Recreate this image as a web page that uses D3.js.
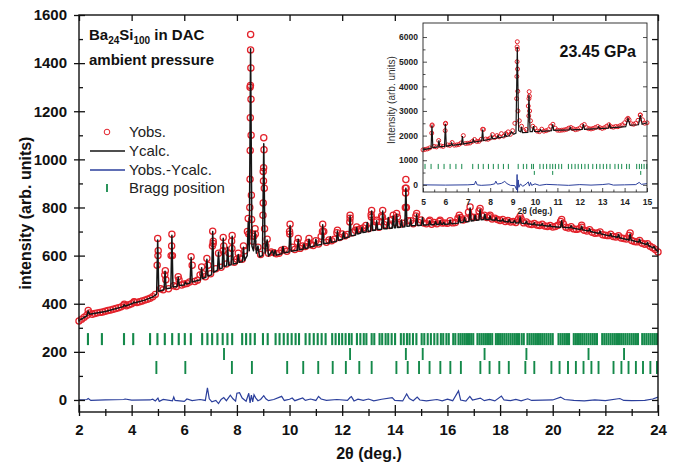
<!DOCTYPE html>
<html>
<head>
<meta charset="utf-8">
<script src="https://cdn.jsdelivr.net/npm/d3@7"></script>
<style>
    body { margin: 0; background: #fff; }
    text { font-family: "Liberation Sans", Arial, sans-serif; }
</style>
</head>
<body>
<div id="chart"></div>
<script>
// ---- main pattern (ambient pressure) ----
// Yobs on a uniform 2theta grid: start 2.0, step 0.1
var obsStart = 2.0, obsStep = 0.1;
var yObsMain = [
    328, 336, 344, 352, 362, 356, 359, 362, 364, 366,
    369, 372, 374, 377, 380, 383, 387, 394, 392, 396,
    400, 406, 405, 408, 411, 415, 419, 423, 429, 438,
    600, 462, 458, 500, 462, 600, 475, 472, 500, 478,
    482, 484, 490, 560, 492, 498, 520, 525, 512, 560,
    525, 650, 545, 610, 552, 640, 565, 610, 660, 572,
    585, 590, 585, 620, 700, 1300, 660, 690, 635, 605,
    950, 640, 610, 615, 612, 608, 610, 622, 625, 618,
    700, 635, 625, 655, 630, 640, 638, 655, 645, 642,
    662, 648, 680, 700, 655, 665, 662, 668, 695, 675,
    690, 682, 688, 755, 695, 705, 708, 712, 715, 725,
    712, 770, 718, 740, 718, 765, 728, 740, 725, 750,
    738, 760, 730, 735, 880, 745, 745, 732, 765, 738,
    748, 735, 732, 742, 730, 738, 732, 742, 735, 736,
    734, 745, 736, 738, 755, 758, 748, 752, 780, 762,
    758, 760, 785, 765, 768, 758, 762, 752, 755, 750,
    746, 750, 742, 746, 740, 742, 738, 752, 752, 736,
    740, 731, 729, 734, 727, 725, 730, 723, 721, 725,
    719, 721, 726, 742, 732, 718, 715, 720, 711, 709,
    712, 718, 705, 702, 708, 697, 693, 694, 698, 687,
    685, 683, 689, 679, 677, 683, 673, 671, 669, 684,
    663, 659, 657, 663, 651, 647, 649, 639, 633, 625,
    615
];
// extra Yobs points on the flanks of the sharp peaks [2theta, I]
var obsPeakPts = [
    [2.35, 372], [3.72, 398], [4.09, 408], [4.97, 560], [4.99, 671], [5.01, 620],
    [5.26, 520], [5.28, 537], [5.52, 640], [5.53, 689], [5.55, 600], [5.77, 512],
    [6.26, 595], [6.66, 553], [6.86, 588], [7.07, 640], [7.08, 701], [7.10, 660],
    [7.47, 620], [7.48, 675], [7.81, 630], [7.82, 684], [8.05, 610], [8.25, 640],
    [8.43, 754], [8.45, 690], [8.49, 800], [8.50, 917], [8.505, 1037], [8.51, 1173],
    [8.515, 1307], [8.52, 1455], [8.522, 1519], [8.53, 1380], [8.535, 1250], [8.54, 1100],
    [8.55, 851], [8.56, 750], [8.64, 680], [8.69, 712], [8.99, 768], [9.0, 819],
    [9.01, 910], [9.015, 965], [9.02, 1090], [9.03, 1040], [9.04, 880], [9.05, 712],
    [9.15, 668], [10.01, 690], [10.02, 730], [10.33, 671], [10.74, 671], [11.25, 700],
    [11.26, 730], [11.82, 705], [12.29, 740], [12.3, 768], [12.55, 719], [13.11, 760],
    [13.12, 788], [13.31, 747], [13.53, 760], [13.54, 788], [13.94, 768], [14.07, 775],
    [14.40, 800], [14.41, 860], [14.42, 916], [14.43, 880], [14.44, 800], [14.83, 775],
    [15.33, 747], [15.72, 747], [16.45, 768], [16.86, 802], [17.24, 796], [17.62, 768],
    [18.76, 763], [20.34, 750], [21.1, 726], [22.94, 694]
];
// Ycalc profile vertices [2theta, I]
var yCalcMain = [
    [2.0, 330], [2.3, 350], [2.35, 370], [2.4, 356], [3.0, 368], [3.68, 388], [3.72, 396], [3.76, 390],
    [4.05, 402], [4.09, 407], [4.13, 404], [4.5, 415], [4.8, 428], [4.95, 440], [4.99, 665], [5.03, 452],
    [5.23, 458], [5.27, 535], [5.31, 462], [5.49, 465], [5.53, 685], [5.57, 470], [5.73, 472], [5.77, 510],
    [5.81, 476], [6.0, 478], [6.04, 490], [6.08, 482], [6.22, 486], [6.26, 592], [6.3, 490], [6.62, 500],
    [6.66, 550], [6.7, 505], [6.82, 510], [6.86, 585], [6.9, 515], [7.04, 520], [7.08, 700], [7.12, 530],
    [7.26, 540], [7.3, 615], [7.34, 545], [7.44, 548], [7.48, 672], [7.52, 555], [7.61, 558], [7.65, 635],
    [7.69, 560], [7.78, 562], [7.82, 680], [7.86, 565], [8.01, 568], [8.05, 605], [8.09, 572], [8.21, 575],
    [8.25, 635], [8.29, 580], [8.39, 600], [8.43, 740], [8.47, 620], [8.52, 1460], [8.57, 640], [8.63, 620],
    [8.69, 700], [8.74, 610], [8.8, 640], [8.86, 595], [8.97, 600], [9.02, 1065], [9.07, 610], [9.15, 665],
    [9.2, 598], [9.35, 620], [9.4, 600], [9.45, 622], [9.5, 602], [9.71, 608], [9.75, 638], [9.79, 612],
    [9.98, 615], [10.02, 725], [10.06, 618], [10.29, 622], [10.33, 668], [10.37, 624], [10.51, 626], [10.55, 648],
    [10.59, 630], [10.7, 632], [10.74, 668], [10.78, 636], [10.96, 640], [11.0, 668], [11.04, 643], [11.22, 646],
    [11.26, 728], [11.3, 650], [11.51, 652], [11.55, 678], [11.59, 655], [11.78, 660], [11.82, 702], [11.86, 664],
    [12.01, 668], [12.05, 698], [12.09, 672], [12.26, 678], [12.3, 765], [12.34, 682], [12.51, 686], [12.55, 716],
    [12.59, 690], [12.71, 694], [12.75, 718], [12.79, 696], [12.91, 698], [12.95, 738], [12.99, 700], [13.08, 702],
    [13.12, 785], [13.16, 704], [13.27, 706], [13.31, 745], [13.35, 708], [13.5, 710], [13.54, 785], [13.58, 712],
    [13.71, 712], [13.75, 758], [13.79, 714], [13.9, 714], [13.94, 765], [13.98, 716], [14.03, 716], [14.07, 772],
    [14.11, 717], [14.21, 718], [14.25, 748], [14.29, 719], [14.38, 720], [14.42, 880], [14.46, 722], [14.56, 723],
    [14.6, 752], [14.64, 724], [14.79, 725], [14.83, 772], [14.87, 725], [15.01, 726], [15.05, 758], [15.09, 727],
    [15.29, 728], [15.33, 745], [15.37, 728], [15.51, 729], [15.55, 742], [15.59, 729], [15.68, 729], [15.72, 745],
    [15.76, 730], [15.82, 730], [15.86, 738], [15.9, 730], [16.06, 731], [16.1, 748], [16.14, 732], [16.41, 735],
    [16.45, 765], [16.49, 737], [16.61, 740], [16.65, 758], [16.69, 741], [16.82, 742], [16.86, 798], [16.9, 744],
    [17.01, 746], [17.05, 768], [17.09, 747], [17.2, 748], [17.24, 792], [17.28, 749], [17.38, 750], [17.42, 772],
    [17.46, 750], [17.58, 750], [17.62, 765], [17.66, 749], [17.81, 747], [17.85, 758], [17.89, 746], [18.06, 744],
    [18.1, 752], [18.14, 743], [18.31, 740], [18.35, 750], [18.39, 739], [18.51, 738], [18.55, 746], [18.59, 737],
    [18.72, 736], [18.76, 760], [18.8, 735], [18.96, 733], [19.0, 743], [19.04, 732], [19.26, 729], [19.3, 736],
    [19.34, 728], [19.56, 726], [19.6, 733], [19.64, 725], [19.86, 722], [19.9, 728], [19.94, 721], [20.3, 718],
    [20.34, 745], [20.38, 718], [20.66, 716], [20.7, 724], [20.74, 715], [21.06, 708], [21.1, 722], [21.14, 707],
    [21.36, 702], [21.4, 712], [21.44, 700], [21.76, 692], [21.8, 702], [21.84, 690], [22.16, 682], [22.2, 692],
    [22.24, 680], [22.46, 676], [22.5, 688], [22.54, 674], [22.9, 665], [22.94, 690], [22.98, 664], [23.26, 656],
    [23.3, 668], [23.34, 654], [23.56, 646], [23.6, 654], [23.64, 642], [23.81, 632], [23.85, 638], [23.89, 628],
    [24.0, 616]
];
// Yobs - Ycalc [2theta, I]
var diffMain = [
    [2.0, 0], [2.3, 2], [2.35, 6], [2.45, -2], [3.0, 0], [3.7, 2], [3.75, 4], [4.0, -1], [4.7, 0], [4.8, 3],
    [4.9, -4], [5.0, 8], [5.05, -6], [5.2, 2], [5.55, -4], [5.6, 12], [5.65, -2], [6.0, -6], [6.1, 4], [6.3, -3],
    [6.6, 2], [6.8, -2], [6.88, 50], [6.95, 5], [7.05, -8], [7.2, -2], [7.3, -15], [7.4, 2], [7.5, 10], [7.6, -3],
    [7.75, 20], [7.85, 5], [7.95, -5], [8.0, 28], [8.1, 30], [8.2, 8], [8.35, -5], [8.45, 28], [8.5, -12], [8.55, 20],
    [8.6, -8], [8.65, 22], [8.72, 8], [8.8, -3], [8.9, 2], [9.02, 18], [9.1, 5], [9.2, -3], [9.4, 2], [9.7, 15],
    [9.8, -2], [10.0, 3], [10.1, 8], [10.2, -3], [10.5, 8], [10.6, -2], [10.8, 4], [11.0, -2], [11.1, 15], [11.2, 4],
    [11.4, -2], [11.8, 2], [12.2, -2], [12.3, 10], [12.35, 14], [12.45, -4], [12.6, 3], [12.8, -2], [13.0, 4], [13.2, -4],
    [13.5, 3], [13.9, 10], [14.0, -2], [14.3, -4], [14.45, 25], [14.55, 6], [14.7, -3], [14.85, 12], [14.95, 0], [15.2, -4],
    [15.6, 2], [15.8, -4], [16.0, 3], [16.2, -3], [16.42, 38], [16.5, 0], [16.7, -5], [16.85, 15], [16.95, 0], [17.25, 8],
    [17.4, -3], [17.6, 2], [17.8, -4], [18.05, 16], [18.15, 0], [18.4, -3], [18.6, 2], [18.8, -4], [19.05, 5], [19.2, -2],
    [19.6, -1], [20.0, 0], [20.3, 12], [20.45, 2], [20.8, -2], [21.2, -4], [21.6, 0], [22.0, -3], [22.55, 6], [22.7, -2],
    [23.0, -3], [23.5, -2], [23.8, 4], [24.0, 12]
];
// Bragg positions, three phases
var braggMain1 = [
    2.34, 2.87, 3.71, 4.06, 4.70, 4.98, 5.26, 5.54, 5.79, 6.02, 6.25, 6.68, 6.88, 7.06, 7.26, 7.46, 7.64, 7.82,
    8.20, 8.35, 8.51, 8.68, 8.99, 9.17, 9.47, 9.62, 9.78, 9.93, 10.08, 10.23, 10.36, 10.61, 10.76, 10.92, 11.07,
    11.22, 11.37, 11.62, 11.75, 11.88, 12.00, 12.13, 12.26, 12.36, 12.56, 12.69, 12.82, 12.92, 13.12, 13.22,
    13.42, 13.52, 13.65, 13.75, 13.88, 14.01, 14.23, 14.34, 14.46, 14.56, 14.69, 14.82, 15.02, 15.12, 15.25,
    15.37, 15.5, 15.62, 15.75, 15.84, 15.96, 16.05, 16.22, 16.30, 16.42, 16.50, 16.58, 16.66, 16.74, 16.82,
    16.9, 16.98, 17.14, 17.22, 17.30, 17.38, 17.46, 17.54, 17.62, 17.70, 17.84, 17.92, 18.0, 18.08, 18.16,
    18.24, 18.32, 18.40, 18.48, 18.56, 18.64, 18.72, 18.82, 18.90, 19.04, 19.12, 19.20, 19.28, 19.36, 19.44,
    19.52, 19.60, 19.68, 19.76, 19.84, 19.92, 20.0, 20.22, 20.30, 20.38, 20.46, 20.54, 20.62, 20.80, 20.88,
    20.96, 21.04, 21.12, 21.20, 21.28, 21.36, 21.44, 21.52, 21.60, 21.68, 21.88, 21.96, 22.04, 22.12, 22.20,
    22.28, 22.36, 22.44, 22.52, 22.60, 22.68, 22.76, 22.84, 22.92, 23.0, 23.08, 23.16, 23.24, 23.40, 23.48,
    23.56, 23.64, 23.72, 23.80, 23.88, 23.96
];
var braggMain2 = [7.51, 12.30, 14.42, 15.06, 17.41, 19.0, 21.36, 22.71];
var braggMain3 = [
    4.94, 6.04, 7.81, 8.57, 9.91, 10.52, 11.09, 11.64, 12.14, 12.65, 13.12, 14.06, 14.49, 14.92, 15.32,
    15.73, 16.11, 16.51, 17.25, 17.60, 17.97, 18.33, 18.96, 19.30, 19.95, 20.26, 20.58, 20.88, 21.17,
    21.47, 21.74, 22.31, 22.61, 22.88, 23.16, 23.43, 23.71, 23.96
];

// ---- inset pattern (23.45 GPa) ----
var insetObsStart = 5.0, insetObsStep = 0.1;
var yObsInset = [
    1420, 1440, 1460, 1500, 2400, 1560, 1540, 1800, 1580, 1560,
    2480, 1620, 1600, 1720, 1610, 1620, 1640, 1700, 2000, 1680,
    1690, 1700, 1760, 1840, 1760, 1770, 1850, 2250, 1860, 1850,
    1900, 2040, 1920, 2000, 1950, 2080, 1980, 2080, 2150, 2050,
    2200, 2500, 5600, 2600, 2380, 2200, 2250, 3200, 2600, 2380,
    2300, 2180, 2160, 2260, 2180, 2200, 2240, 2380, 2460, 2300,
    2220, 2210, 2220, 2230, 2250, 2300, 2330, 2280, 2240, 2260,
    2300, 2400, 2450, 2320, 2280, 2270, 2290, 2330, 2370, 2320,
    2290, 2320, 2380, 2440, 2360, 2340, 2370, 2360, 2400, 2440,
    2520, 2650, 2640, 2480, 2460, 2500, 2620, 2830, 2640, 2500,
    2520
];
var obsPeakInset = [
    [5.39, 2100], [5.41, 2432], [5.99, 2200], [6.01, 2500], [7.66, 2256], [9.18, 3500], [9.19, 4400],
    [9.2, 5000], [9.21, 5810], [9.215, 5500], [9.22, 4700], [9.23, 3800], [9.24, 3000], [9.72, 2800],
    [9.73, 3500], [9.74, 3783], [9.75, 3600], [9.76, 3000], [14.15, 2703], [14.7, 2838]
];
var yCalcInset = [
    [5.0, 1420], [5.36, 1490], [5.4, 2420], [5.44, 1510], [5.67, 1540], [5.71, 1810], [5.75, 1550], [5.96, 1560],
    [6.0, 2480], [6.04, 1570], [6.24, 1600], [6.28, 1700], [6.32, 1605], [6.72, 1650], [6.76, 1980], [6.8, 1660],
    [7.21, 1730], [7.25, 1830], [7.29, 1740], [7.62, 1790], [7.66, 2240], [7.7, 1800], [8.03, 1860], [8.07, 2000],
    [8.11, 1870], [8.31, 1900], [8.35, 2000], [8.39, 1910], [8.63, 1950], [8.67, 2090], [8.71, 1960], [8.85, 1990],
    [8.95, 2150], [9.05, 2050], [9.15, 2100], [9.21, 5600], [9.27, 2200], [9.36, 2150], [9.4, 2360], [9.44, 2120],
    [9.68, 2130], [9.73, 3650], [9.78, 2160], [9.88, 2160], [9.93, 2380], [9.98, 2170], [10.2, 2160], [10.25, 2240],
    [10.3, 2170], [10.74, 2200], [10.79, 2460], [10.84, 2210], [11.52, 2230], [11.57, 2330], [11.62, 2235],
    [12.11, 2250], [12.16, 2460], [12.21, 2255], [12.79, 2280], [12.84, 2360], [12.89, 2285], [13.28, 2300],
    [13.33, 2450], [13.38, 2310], [14.05, 2360], [14.15, 2680], [14.25, 2420], [14.62, 2440], [14.7, 2830],
    [14.78, 2460], [15.0, 2520]
];
var diffInset = [
    [5.0, 0], [6.0, -10], [7.0, 0], [7.3, 20], [7.35, 150], [7.42, 0], [7.6, -20], [8.0, 0], [8.2, 40], [8.25, 150],
    [8.32, 30], [8.5, 60], [8.65, 140], [8.75, 50], [8.9, -20], [9.1, -30], [9.18, -200], [9.2, 420], [9.22, -300],
    [9.25, 200], [9.28, -100], [9.35, 40], [9.45, -60], [9.6, 30], [9.7, 120], [9.75, -50], [9.8, 100], [9.85, -20],
    [10.0, 40], [10.2, -20], [10.5, 20], [11.0, 0], [11.5, -20], [12.0, 10], [12.5, -10], [13.0, 10], [13.3, 40],
    [13.5, -10], [14.0, 0], [14.5, 10], [14.65, 100], [14.75, 20], [15.0, 50]
];
var braggInset1 = [
    5.09, 5.36, 5.68, 5.94, 6.21, 6.47, 6.73, 7.22, 7.47, 7.69, 7.92, 8.14, 8.36, 8.59, 8.81, 9.25, 9.48, 9.63,
    9.85, 9.93, 10.22, 10.37, 10.52, 10.67, 10.79, 10.91, 11.06, 11.19, 11.49, 11.64, 11.79, 11.93, 12.08,
    12.23, 12.38, 12.58, 12.75, 12.90, 13.05, 13.20, 13.35, 13.57, 13.72, 13.87, 14.09, 14.21, 14.54, 14.66,
    14.76, 14.87, 14.99
];
var braggInset2 = [9.97, 10.79, 14.72];

var xTicksMain = [2, 4, 6, 8, 10, 12, 14, 16, 18, 20, 22, 24];
var yTicksMain = [0, 200, 400, 600, 800, 1000, 1200, 1400, 1600];
var xTicksInset = [5, 6, 7, 8, 9, 10, 11, 12, 13, 14, 15];
var yTicksInset = [0, 1000, 2000, 3000, 4000, 5000, 6000];
var legendItems = ["Yobs.", "Ycalc.", "Yobs.-Ycalc.", "Bragg position"];

(function () {
    var FONT = "'Liberation Sans', Arial, sans-serif";
    var RED = "#e3222b", BLACK = "#151515", BLUE = "#2b3f9c", GREEN = "#14894a";

    var svg = d3.select("#chart")
        .append("svg")
        .attr("width", 677)
        .attr("height", 465);

    var x = d3.scaleLinear().domain([2, 24]).range([79, 658]);
    var y = d3.scaleLinear().domain([-50, 1600]).range([412, 15]);

    var line = d3.line().x(d => x(d[0])).y(d => y(d[1]));

    // Bragg rows (centre, half height in intensity units, width)
    var rows = [[braggMain1, 253, 25, 2.1], [braggMain2, 191, 25, 1.9], [braggMain3, 135, 27, 1.9]];
    rows.forEach(function (r) {
        svg.append("g").selectAll("line")
            .data(r[0])
            .enter().append("line")
            .attr("x1", d => x(d)).attr("x2", d => x(d))
            .attr("y1", y(r[1] + r[2])).attr("y2", y(r[1] - r[2]))
            .attr("stroke", GREEN).attr("stroke-width", r[3]);
    });

    // residual
    svg.append("path")
        .datum(diffMain)
        .attr("d", line)
        .attr("fill", "none").attr("stroke", BLUE).attr("stroke-width", 1.2);

    // observed circles
    var obsAll = yObsMain.map((v, i) => [obsStart + i * obsStep, v]).concat(obsPeakPts);
    svg.append("g").selectAll("circle")
        .data(obsAll)
        .enter().append("circle")
        .attr("cx", d => x(d[0])).attr("cy", d => y(d[1]))
        .attr("r", 3.1)
        .attr("fill", "none").attr("stroke", RED).attr("stroke-width", 1.25);

    // calculated profile
    svg.append("path")
        .datum(yCalcMain)
        .attr("d", line)
        .attr("fill", "none").attr("stroke", BLACK).attr("stroke-width", 1.5)
        .attr("stroke-linejoin", "round");

    // ---- axes ----
    function styleAxis(g, size) {
        g.attr("font-family", FONT).attr("font-size", size).attr("font-weight", "bold");
        g.select(".domain").remove();
        g.selectAll("line").attr("stroke", "#111").attr("stroke-width", 1.3);
        g.selectAll("text").attr("fill", "#111");
    }
    var minorX = d3.range(3, 24, 2), minorY = d3.range(100, 1600, 200);

    svg.append("g").attr("transform", "translate(0,412)")
        .call(d3.axisBottom(x).tickValues(xTicksMain).tickSize(-7).tickPadding(12).tickFormat(d3.format("d")))
        .call(g => styleAxis(g, 15));
    svg.append("g").attr("transform", "translate(0,412)")
        .call(d3.axisBottom(x).tickValues(xTicksMain).tickSize(4).tickFormat(""))
        .call(g => styleAxis(g, 15));
    svg.append("g").attr("transform", "translate(0,412)")
        .call(d3.axisBottom(x).tickValues(minorX).tickSize(4).tickFormat(""))
        .call(g => styleAxis(g, 15));
    svg.append("g").attr("transform", "translate(0,412)")
        .call(d3.axisBottom(x).tickValues(minorX).tickSize(-3).tickFormat(""))
        .call(g => styleAxis(g, 15));

    svg.append("g").attr("transform", "translate(79,0)")
        .call(d3.axisLeft(y).tickValues(yTicksMain).tickSize(-6).tickPadding(12).tickFormat(d3.format("d")))
        .call(g => styleAxis(g, 15));
    svg.append("g").attr("transform", "translate(79,0)")
        .call(d3.axisLeft(y).tickValues(yTicksMain).tickSize(5).tickFormat(""))
        .call(g => styleAxis(g, 15));
    svg.append("g").attr("transform", "translate(79,0)")
        .call(d3.axisLeft(y).tickValues(minorY).tickSize(-4).tickFormat(""))
        .call(g => styleAxis(g, 15));

    // top and right ticks, inward
    svg.append("g").attr("transform", "translate(0,15)")
        .call(d3.axisTop(x).tickValues(xTicksMain).tickSize(-6).tickFormat(""))
        .call(g => styleAxis(g, 15));
    svg.append("g").attr("transform", "translate(658,0)")
        .call(d3.axisRight(y).tickValues(d3.range(0, 1600, 100)).tickSize(-6).tickFormat(""))
        .call(g => styleAxis(g, 15));

    svg.append("rect")
        .attr("x", 79).attr("y", 15).attr("width", 579).attr("height", 397)
        .attr("fill", "none").attr("stroke", "#111").attr("stroke-width", 1.4);

    svg.append("text")
        .attr("x", 369).attr("y", 459)
        .attr("text-anchor", "middle")
        .attr("font-family", FONT).attr("font-size", 16).attr("font-weight", "bold").attr("fill", "#111")
        .text("2\u03b8 (deg.)");
    svg.append("text")
        .attr("transform", "translate(31,213) rotate(-90)")
        .attr("text-anchor", "middle")
        .attr("font-family", FONT).attr("font-size", 16).attr("font-weight", "bold").attr("fill", "#111")
        .text("intensity (arb. units)");

    // title
    var t = svg.append("text")
        .attr("x", 89).attr("y", 40)
        .attr("font-family", FONT).attr("font-size", 15).attr("font-weight", "bold").attr("fill", "#111");
    t.append("tspan").text("Ba");
    t.append("tspan").attr("font-size", 10).attr("dy", 4).text("24");
    t.append("tspan").attr("dy", -4).text("Si");
    t.append("tspan").attr("font-size", 10).attr("dy", 4).text("100");
    t.append("tspan").attr("dy", -4).text(" in DAC");
    svg.append("text")
        .attr("x", 89).attr("y", 65)
        .attr("font-family", FONT).attr("font-size", 15).attr("font-weight", "bold").attr("fill", "#111")
        .text("ambient pressure");

    // legend
    var leg = svg.append("g").attr("font-family", FONT).attr("font-size", 15).attr("fill", "#111");
    var legY = [132, 151, 170, 188];
    leg.selectAll("text")
        .data(legendItems)
        .enter().append("text")
        .attr("x", 129).attr("y", (d, i) => legY[i] + 5)
        .attr("fill", "#222")
        .text(d => d);
    leg.append("circle").attr("cx", 107).attr("cy", legY[0]).attr("r", 2.8)
        .attr("fill", "none").attr("stroke", RED).attr("stroke-width", 1);
    leg.append("line").attr("x1", 90).attr("x2", 125).attr("y1", legY[1]).attr("y2", legY[1])
        .attr("stroke", BLACK).attr("stroke-width", 1.4);
    leg.append("line").attr("x1", 90).attr("x2", 125).attr("y1", legY[2]).attr("y2", legY[2])
        .attr("stroke", BLUE).attr("stroke-width", 1.4);
    leg.append("line").attr("x1", 107).attr("x2", 107).attr("y1", legY[3] - 4).attr("y2", legY[3] + 4)
        .attr("stroke", GREEN).attr("stroke-width", 1.8);

    // ---- inset ----
    var xi = d3.scaleLinear().domain([5, 15]).range([423, 647]);
    var yi = d3.scaleLinear().domain([-290, 6570]).range([192, 23]);
    var lineI = d3.line().x(d => xi(d[0])).y(d => yi(d[1]));
    var ins = svg.append("g");

    ins.append("rect").attr("x", 423).attr("y", 23).attr("width", 224).attr("height", 169).attr("fill", "#fff");

    [[braggInset1, 745, 105], [braggInset2, 485, 80]].forEach(function (r) {
        ins.append("g").selectAll("line")
            .data(r[0])
            .enter().append("line")
            .attr("x1", d => xi(d)).attr("x2", d => xi(d))
            .attr("y1", yi(r[1] + r[2])).attr("y2", yi(r[1] - r[2]))
            .attr("stroke", GREEN).attr("stroke-width", 1);
    });

    ins.append("path").datum(diffInset).attr("d", lineI)
        .attr("fill", "none").attr("stroke", BLUE).attr("stroke-width", 1);

    var obsIns = yObsInset.map((v, i) => [insetObsStart + i * insetObsStep, v]).concat(obsPeakInset);
    ins.append("g").selectAll("circle")
        .data(obsIns)
        .enter().append("circle")
        .attr("cx", d => xi(d[0])).attr("cy", d => yi(d[1]))
        .attr("r", 2)
        .attr("fill", "none").attr("stroke", RED).attr("stroke-width", 1);

    ins.append("path").datum(yCalcInset).attr("d", lineI)
        .attr("fill", "none").attr("stroke", BLACK).attr("stroke-width", 1.2);

    function styleIns(g) {
        g.attr("font-family", FONT).attr("font-size", 8.5).attr("font-weight", "bold");
        g.select(".domain").remove();
        g.selectAll("line").attr("stroke", "#222").attr("stroke-width", 0.8);
        g.selectAll("text").attr("fill", "#222");
    }
    ins.append("g").attr("transform", "translate(0,192)")
        .call(d3.axisBottom(xi).tickValues(xTicksInset).tickSize(-4).tickPadding(7).tickFormat(d3.format("d")))
        .call(styleIns);
    ins.append("g").attr("transform", "translate(0,192)")
        .call(d3.axisBottom(xi).tickValues(d3.range(5.5, 15, 1)).tickSize(-2.5).tickFormat(""))
        .call(styleIns);
    ins.append("g").attr("transform", "translate(423,0)")
        .call(d3.axisLeft(yi).tickValues(yTicksInset).tickSize(-4).tickPadding(5).tickFormat(d3.format("d")))
        .call(styleIns);
    ins.append("g").attr("transform", "translate(423,0)")
        .call(d3.axisLeft(yi).tickValues(d3.range(500, 6500, 1000)).tickSize(-2.5).tickFormat(""))
        .call(styleIns);
    ins.append("g").attr("transform", "translate(647,0)")
        .call(d3.axisRight(yi).tickValues(yTicksInset).tickSize(-4).tickFormat(""))
        .call(styleIns);

    ins.append("rect").attr("x", 423).attr("y", 23).attr("width", 224).attr("height", 169)
        .attr("fill", "none").attr("stroke", "#222").attr("stroke-width", 0.9);

    ins.append("text")
        .attr("x", 535).attr("y", 214).attr("text-anchor", "middle")
        .attr("font-family", FONT).attr("font-size", 8.5).attr("font-weight", "bold").attr("fill", "#222")
        .text("2\u03b8 (deg.)");
    ins.append("text")
        .attr("transform", "translate(395,100) rotate(-90)")
        .attr("text-anchor", "middle")
        .attr("font-family", FONT).attr("font-size", 10).attr("fill", "#333")
        .text("Intensity (arb. units)");
    ins.append("text")
        .attr("x", 636).attr("y", 57).attr("text-anchor", "end")
        .attr("font-family", FONT).attr("font-size", 16).attr("font-weight", "bold").attr("fill", "#111")
        .text("23.45 GPa");
})();
</script>
</body>
</html>
